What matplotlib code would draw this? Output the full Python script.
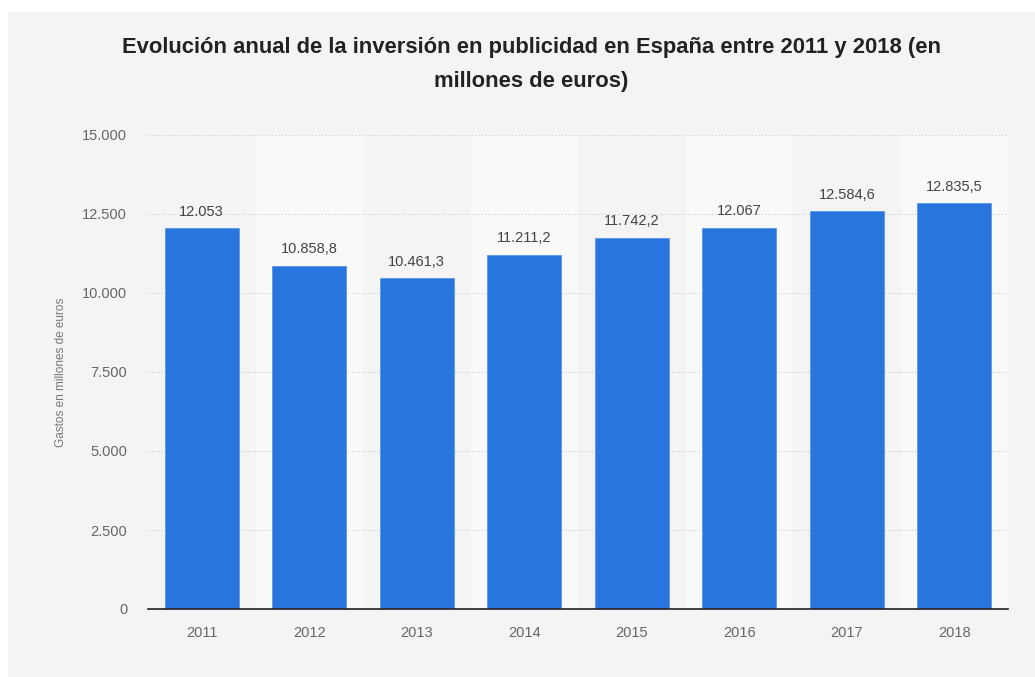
import matplotlib.pyplot as plt
from matplotlib.patches import Rectangle

years = ["2011", "2012", "2013", "2014", "2015", "2016", "2017", "2018"]
spend = [12053, 10858.8, 10461.3, 11211.2, 11742.2, 12067, 12584.6, 12835.5]
spend_labels = ["12.053", "10.858,8", "10.461,3", "11.211,2", "11.742,2",
                "12.067", "12.584,6", "12.835,5"]
yticks = [0, 2500, 5000, 7500, 10000, 12500, 15000]
ytick_labels = ["0", "2.500", "5.000", "7.500", "10.000", "12.500", "15.000"]

plt.rcParams['font.family'] = ['Liberation Sans', 'DejaVu Sans']

fig = plt.figure(figsize=(10.35, 6.77), dpi=100)
fig.patch.set_facecolor("white")
# gray card behind the whole chart
fig.patches.append(Rectangle((8 / 1035, 0), 1 - 8 / 1035, 1 - 12 / 677,
                             transform=fig.transFigure, facecolor="#f4f4f4",
                             edgecolor="none", zorder=-1))

ax = fig.add_axes([148 / 1035, 1 - 609 / 677, 860 / 1035, 474 / 677])
ax.set_facecolor("#f4f4f4")

x = range(len(years))
# lighter bands behind every other year
for i in x:
    if i % 2 == 1:
        ax.axvspan(i - 0.5, i + 0.5, color="#f9f9f9", zorder=0, lw=0)

ax.set_axisbelow(True)
ax.grid(axis="y", color="#c8c8c8", linestyle=(0, (1, 2)), linewidth=0.8)
bars = ax.bar(x, spend, width=0.69, color="#2876dd", edgecolor="#5a97e6",
              linewidth=0.6, zorder=2)

for rect, lab in zip(bars, spend_labels):
    ax.text(rect.get_x() + rect.get_width() / 2, rect.get_height() + 300, lab,
            ha="center", va="bottom", fontsize=10.5, color="#444444", zorder=3)

ax.set_xlim(-0.5, len(years) - 0.5)
ax.set_ylim(0, 15000)
ax.set_xticks(list(x))
ax.set_xticklabels(years)
ax.set_yticks(yticks)
ax.set_yticklabels(ytick_labels)
ax.tick_params(axis="both", length=0, labelsize=10.5, colors="#666666")
ax.tick_params(axis="x", pad=12)
ax.tick_params(axis="y", pad=15)
for side in ["top", "right", "left"]:
    ax.spines[side].set_visible(False)
ax.spines["bottom"].set_color("#222222")
ax.spines["bottom"].set_linewidth(1.2)

ax.set_ylabel("Gastos en millones de euros", fontsize=8.5, color="#777777",
              labelpad=11)

fig.text(0.5 + 14 / 1035, 1 - 48 / 677,
         "Evolución anual de la inversión en publicidad en España entre 2011 y 2018 (en",
         ha="center", va="center", fontsize=15.8, fontweight="bold", color="#222222")
fig.text(0.5 + 14 / 1035, 1 - 82 / 677, "millones de euros)",
         ha="center", va="center", fontsize=15.8, fontweight="bold", color="#222222")

fig.savefig("out.png", dpi=100)
